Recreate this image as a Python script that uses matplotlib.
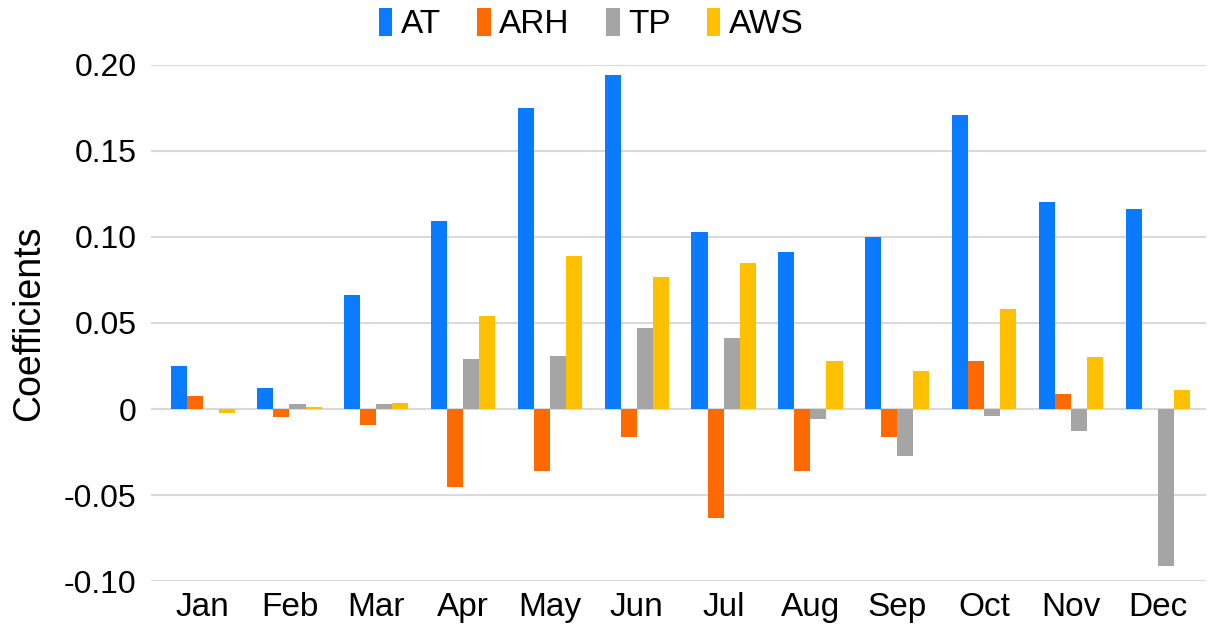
import matplotlib.pyplot as plt
import numpy as np

plt.rcParams["font.family"] = ["Liberation Sans", "DejaVu Sans"]

months = ["Jan", "Feb", "Mar", "Apr", "May", "Jun",
          "Jul", "Aug", "Sep", "Oct", "Nov", "Dec"]
at = [0.025, 0.012, 0.066, 0.109, 0.175, 0.194, 0.103, 0.091, 0.100, 0.171, 0.120, 0.116]
arh = [0.0076, -0.0045, -0.009, -0.045, -0.036, -0.016, -0.063, -0.036, -0.016, 0.028, 0.009, 0.0]
tp = [0.0, 0.003, 0.003, 0.029, 0.031, 0.047, 0.041, -0.006, -0.027, -0.004, -0.013, -0.091]
aws = [-0.0025, 0.001, 0.0035, 0.054, 0.089, 0.077, 0.085, 0.028, 0.022, 0.058, 0.030, 0.011]

series = [("AT", at, "#0A7BFF"), ("ARH", arh, "#FF6A00"),
          ("TP", tp, "#A5A5A5"), ("AWS", aws, "#FFC000")]

fig = plt.figure(figsize=(12.14, 6.29), dpi=100)
ax = fig.add_axes([0.124, 0.076, 0.869, 0.821])

x = np.arange(len(months))
width = 0.185
for i, (name, vals, color) in enumerate(series):
    ax.bar(x + (i - 1.5) * width, vals, width, color=color, label=name, zorder=3)

ax.set_ylim(-0.10, 0.20)
ax.set_xlim(-0.6, 11.55)
ax.set_yticks([-0.10, -0.05, 0, 0.05, 0.10, 0.15, 0.20])
ax.set_yticklabels(["-0.10", "-0.05", "0", "0.05", "0.10", "0.15", "0.20"])
ax.set_xticks(x)
ax.set_xticklabels(months)
ax.grid(axis="y", color="#D9D9D9", linewidth=1.5, zorder=0)
for s in ax.spines.values():
    s.set_visible(False)
ax.tick_params(length=0, labelsize=23)
ax.tick_params(axis="x", labelsize=24, pad=8)
ax.tick_params(axis="y", pad=10)
ax.set_ylabel("Coefficients", fontsize=27, labelpad=12)

fig.legend(loc="upper center", bbox_to_anchor=(0.487, 1.035), ncol=4, frameon=False,
           fontsize=24, handlelength=0.4, handleheight=0.9, handletextpad=0.25,
           columnspacing=1.1)

fig.savefig("out.png", dpi=100)
